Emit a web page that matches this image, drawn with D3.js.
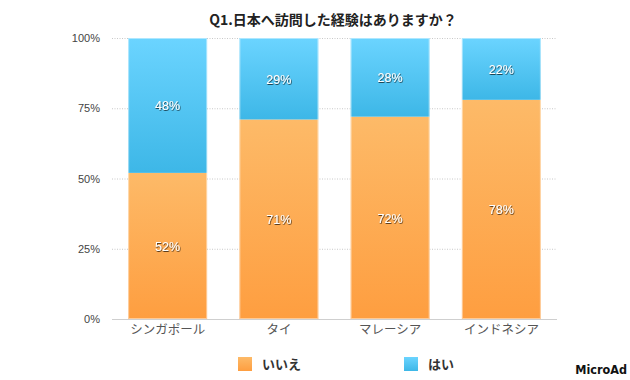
<!DOCTYPE html>
<html><head><meta charset="utf-8">
<script src="https://cdn.jsdelivr.net/npm/d3@7"></script>
<style>body{margin:0;background:#fff}svg{display:block}</style>
</head><body>
<svg id="c" width="630" height="380"></svg>
<script>
const title = "Q1.日本へ訪問した経験はありますか？";
const categories = ["シンガポール", "タイ", "マレーシア", "インドネシア"];
const seriesNames = ["いいえ", "はい"];
const noValues = [52, 71, 72, 78];
const yesValues = [48, 29, 28, 22];
const yTicks = [0, 25, 50, 75, 100];

const svg = d3.select("#c");
const defs = svg.append("defs");
const gO = defs.append("linearGradient").attr("id","gO").attr("x1",0).attr("y1",0).attr("x2",0).attr("y2",1);
gO.append("stop").attr("offset","0%").attr("stop-color","#fdba68");
gO.append("stop").attr("offset","100%").attr("stop-color","#fe9e40");
const gB = defs.append("linearGradient").attr("id","gB").attr("x1",0).attr("y1",0).attr("x2",0).attr("y2",1);
gB.append("stop").attr("offset","0%").attr("stop-color","#6bd4ff");
gB.append("stop").attr("offset","100%").attr("stop-color","#3db7e7");
const f = defs.append("filter").attr("id","sh").attr("x","-20%").attr("y","-20%").attr("width","140%").attr("height","140%");
f.append("feDropShadow").attr("dx",0.6).attr("dy",0.8).attr("stdDeviation",0.4).attr("flood-color","#000").attr("flood-opacity",0.8);

const x = d3.scaleBand().domain(categories).range([112, 557]).paddingInner(0.29).paddingOuter(0.145);
const y = d3.scaleLinear().domain([0, 100]).range([319, 38]);

svg.append("g").selectAll("line").data(yTicks.filter(d=>d>0)).join("line")
  .attr("x1",112).attr("x2",557).attr("y1",d=>y(d)+0.5).attr("y2",d=>y(d)+0.5)
  .attr("stroke","#c8c8c8").attr("stroke-dasharray","1,1.5");

const yAxis = d3.axisLeft(y).tickValues(yTicks).tickFormat(d=>d+"%").tickSize(0).tickPadding(0);
const ya = svg.append("g").attr("transform","translate(100,0)").call(yAxis);
ya.select(".domain").remove();
ya.selectAll("text").attr("font-family","Liberation Sans, Arial, sans-serif").attr("font-size",11).attr("fill","#444");

const rows = categories.map((c,i)=>({c, no:noValues[i], yes:yesValues[i]}));
const g = svg.append("g");
g.selectAll("rect.no").data(rows).join("rect").attr("class","no")
  .attr("x",d=>x(d.c)).attr("width",x.bandwidth())
  .attr("y",d=>y(d.no)).attr("height",d=>y(0)-y(d.no))
  .attr("fill","url(#gO)");
g.selectAll("rect.yes").data(rows).join("rect").attr("class","yes")
  .attr("x",d=>x(d.c)).attr("width",x.bandwidth())
  .attr("y",d=>y(d.no+d.yes)).attr("height",d=>y(d.no)-y(d.no+d.yes))
  .attr("fill","url(#gB)");
g.selectAll("rect.edge").data(rows).join("rect").attr("class","edge")
  .attr("x",d=>x(d.c)+0.5).attr("width",x.bandwidth()-1)
  .attr("y",y(100)+0.5).attr("height",y(0)-y(100)-1)
  .attr("fill","none").attr("stroke","rgba(255,255,255,0.45)").attr("stroke-width",1);

svg.append("line").attr("x1",112).attr("x2",557).attr("y1",319.5).attr("y2",319.5).attr("stroke","#cfcfcf").attr("stroke-width",1.2);

const xAxis = d3.axisBottom(x).tickSize(0).tickPadding(0);
const xa = svg.append("g").attr("transform","translate(0,325)").call(xAxis);
xa.select(".domain").remove();
xa.selectAll("text").attr("font-family","Noto Sans CJK JP, sans-serif").attr("font-size",12.5).attr("fill","#555").attr("dy","0.75em");

const lab = svg.append("g").attr("font-family","Liberation Sans, Arial, sans-serif").attr("font-size",12.5)
  .attr("fill","#fff").attr("text-anchor","middle").attr("filter","url(#sh)");
lab.selectAll("text.no").data(rows).join("text")
  .attr("x",d=>x(d.c)+x.bandwidth()/2).attr("y",d=>(y(0)+y(d.no))/2+5)
  .text(d=>d.no+"%");
lab.selectAll("text.yes").data(rows).join("text")
  .attr("x",d=>x(d.c)+x.bandwidth()/2).attr("y",d=>(y(d.no)+y(100))/2+5)
  .text(d=>d.yes+"%");

svg.append("text").attr("x",333).attr("y",25).attr("text-anchor","middle")
  .attr("font-family","Noto Sans CJK JP, sans-serif").attr("font-weight","bold").attr("font-size",14).attr("fill","#222")
  .text(title);

const legX = [238, 404];
const legFill = ["url(#gO)", "url(#gB)"];
const leg = svg.append("g").selectAll("g").data(seriesNames).join("g")
  .attr("transform",(d,i)=>`translate(${legX[i]},357)`);
leg.append("rect").attr("width",14).attr("height",14).attr("fill",(d,i)=>legFill[i]);
leg.append("text").attr("x",24).attr("y",12).attr("font-family","Noto Sans CJK JP, sans-serif")
  .attr("font-size",13).attr("font-weight","bold").attr("fill","#333").text(d=>d);

svg.append("text").attr("x",627).attr("y",374).attr("text-anchor","end")
  .attr("font-family","DejaVu Sans Condensed, sans-serif").attr("font-weight","bold").attr("font-size",12.5)
  .attr("fill","#111").text("MicroAd");
</script>
</body></html>
